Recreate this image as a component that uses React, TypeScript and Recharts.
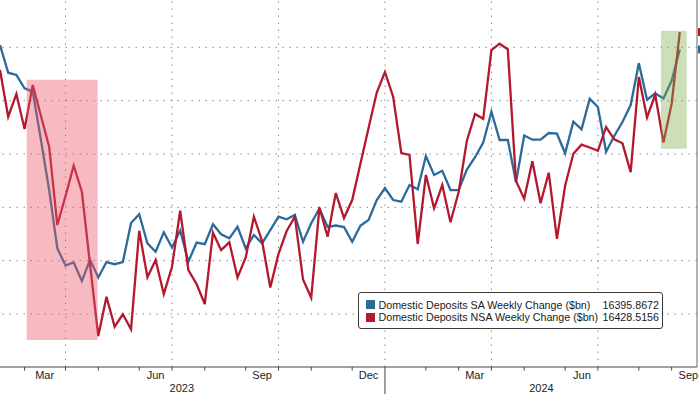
import { LineChart, Line, XAxis, YAxis, ReferenceLine, ReferenceArea, ReferenceDot } from 'recharts';

// Weekly H.8 readings ($bn), Wed 8 Feb 2023 .. Wed 11 Sep 2024, one point per week
const saWeekly = [
  16404.3, 16352.4, 16348.1, 16323.1, 16316.8, 16226.2, 16132.4, 16023.1, 15990.9, 15996.5,
  15961.8, 16001.8, 15968.4, 15997.4, 15993.3, 15997.4, 16070.6, 16087.1, 16032.5, 16016.8,
  16053.1, 16024.6, 16056.5, 15998.0, 16034.0, 16030.8, 16068.3, 16049.4, 16041.9, 16063.6,
  16023.1, 16048.1, 16032.5, 16057.4, 16082.4, 16077.5, 16085.6, 16035.5, 16070.0, 16097.8,
  16063.1, 16065.9, 16063.1, 16035.5, 16065.5, 16076.2, 16113.7, 16136.2, 16113.7, 16110.5,
  16141.8, 16133.9, 16196.2, 16160.6, 16168.6, 16132.4, 16132.4, 16170.9, 16193.9, 16221.5,
  16279.3, 16226.2, 16226.2, 16147.1, 16234.6, 16226.8, 16226.8, 16239.3, 16238.0, 16201.3,
  16260.5, 16246.3, 16303.4, 16288.1, 16204.3, 16233.7, 16259.9, 16291.8, 16370.0, 16301.8,
  16313.8, 16304.0, 16337.2, 16395.8672,
];

const nsaWeekly = [
  16357.4, 16269.9, 16312.4, 16246.8, 16329.3, 16271.2, 16213.6, 16066.8, 16121.2, 16178.0,
  16128.7, 15991.8, 15858.7, 15932.4, 15876.1, 15899.4, 15871.3, 16056.1, 15968.8, 16001.2,
  15937.4, 15988.6, 16093.6, 15982.4, 15956.2, 15918.7, 16052.4, 16019.9, 16034.4, 15968.4,
  16005.9, 16082.4, 16036.8, 15949.6, 16012.4, 16055.6, 16082.4, 15964.6, 15930.5, 16099.6,
  16044.9, 16126.8, 16079.9, 16113.7, 16181.2, 16248.7, 16315.3, 16353.7, 16307.4, 16201.8,
  16198.1, 16031.2, 16160.6, 16098.1, 16141.8, 16071.9, 16128.7, 16224.3, 16274.9, 16265.9,
  16394.9, 16406.8, 16396.3, 16149.3, 16116.1, 16186.3, 16107.5, 16164.9, 16040.9, 16140.3,
  16200.5, 16217.4, 16212.1, 16205.9, 16250.6, 16227.5, 16220.0, 16165.8, 16344.3, 16268.4,
  16311.5, 16221.5, 16293.7, 16428.5156,
];

const seriesNames = [
  'Domestic Deposits SA Weekly Change ($bn)',
  'Domestic Deposits NSA Weekly Change ($bn)',
];

// week index of the first reading in each month / quarter
const monthStarts = [3, 8, 12, 17, 21, 25, 30, 34, 38, 43, 47, 52, 56, 60, 64, 69, 73, 78, 82];
const quarterStarts = [8, 21, 34, 47, 60, 73];
const yearBreak = 47;

const monthLabels = [
  { at: 5.45, text: 'Mar' },
  { at: 19, text: 'Jun' },
  { at: 32, text: 'Sep' },
  { at: 45, text: 'Dec' },
  { at: 57.95, text: 'Mar' },
  { at: 71.05, text: 'Jun' },
  { at: 84.05, text: 'Sep' },
];
const yearLabels = [
  { at: 22.2, text: '2023' },
  { at: 66.1, text: '2024' },
];

const gridValues = [15900, 16000, 16100, 16200, 16300, 16400];
const yTicks = [15850, 15900, 15950, 16000, 16050, 16100, 16150, 16200, 16250, 16300, 16350, 16400, 16450];

// shaded periods
const stressWeeks = [3.26, 11.93];
const stressRange = [15851, 16339];
const recentWeeks = [80.7, 83.85];
const recentRange = [16210, 16431];

const BLUE = '#2c6a9c';
const RED = '#b3182f';
const FONT = '"Liberation Sans", Arial, sans-serif';

const data = saWeekly.map((sa, i) => ({ i, sa, nsa: nsaWeekly[i] }));
const xTicks = [...monthStarts, ...monthLabels.map((m) => m.at), ...yearLabels.map((y) => y.at)];

function DateTick(props: any) {
  const { x, y, payload } = props;
  const v = payload.value;
  const month = monthLabels.find((m) => m.at === v);
  if (month) {
    return (
      <text x={x} y={y + 12.3} textAnchor="middle" fontSize={11} fontFamily={FONT} fill="#222">
        {month.text}
      </text>
    );
  }
  const year = yearLabels.find((m) => m.at === v);
  if (year) {
    return (
      <text x={x} y={y + 25.3} textAnchor="middle" fontSize={11} fontFamily={FONT} fill="#222">
        {year.text}
      </text>
    );
  }
  return <line x1={x} x2={x} y1={y} y2={y + (v === yearBreak ? 27 : 3.5)} stroke="#444" strokeWidth={1} />;
}

function LastTag(props: any) {
  const { cx, cy, fill } = props;
  return <rect x={cx + 1} y={cy - 4} width={10} height={8} fill={fill} />;
}

export default function App() {
  const last = data[data.length - 1];
  return (
    <div style={{ position: 'absolute', left: 0, top: 0, width: 700, height: 394, background: '#fff', overflow: 'hidden' }}>
      <LineChart width={700} height={394} data={data} margin={{ top: 0, right: 0, bottom: 0, left: 0 }}>
        <XAxis
          type="number"
          dataKey="i"
          domain={[0, 85.1]}
          allowDataOverflow
          ticks={xTicks}
          interval={0}
          tickLine={false}
          tickSize={0}
          tickMargin={0}
          height={27}
          axisLine={{ stroke: '#444' }}
          tick={<DateTick />}
        />
        <YAxis
          orientation="right"
          width={3}
          domain={[15800.6, 16488.7]}
          allowDataOverflow
          ticks={yTicks}
          interval={0}
          tick={false}
          tickSize={4}
          tickLine={{ stroke: '#555' }}
          axisLine={{ stroke: '#666' }}
        />
        {gridValues.map((v) => (
          <ReferenceLine key={'h' + v} y={v} stroke="#8c8c8c" strokeDasharray="1.5 5.5" />
        ))}
        {quarterStarts.map((q) => (
          <ReferenceLine key={'v' + q} x={q} stroke="#8c8c8c" strokeDasharray="1.5 5.5" />
        ))}
        <Line
          type="linear"
          dataKey="sa"
          stroke={BLUE}
          strokeWidth={2.3}
          dot={false}
          activeDot={false}
          isAnimationActive={false}
        />
        <Line
          type="linear"
          dataKey="nsa"
          stroke={RED}
          strokeWidth={2.3}
          dot={false}
          activeDot={false}
          isAnimationActive={false}
        />
        <ReferenceArea
          x1={stressWeeks[0]}
          x2={stressWeeks[1]}
          y1={stressRange[0]}
          y2={stressRange[1]}
          fill="#ea5a68"
          fillOpacity={0.42}
          stroke="none"
          zIndex={450}
        />
        <ReferenceArea
          x1={recentWeeks[0]}
          x2={recentWeeks[1]}
          y1={recentRange[0]}
          y2={recentRange[1]}
          fill="#7fae4f"
          fillOpacity={0.4}
          stroke="none"
          zIndex={450}
        />
        <ReferenceDot x={85.1} y={last.nsa} fill={RED} shape={<LastTag />} ifOverflow="visible" />
        <ReferenceDot x={85.1} y={last.sa} fill={BLUE} shape={<LastTag />} ifOverflow="visible" />
      </LineChart>
      <div
        style={{
          position: 'absolute',
          left: 358,
          top: 292,
          width: 305,
          height: 37,
          boxSizing: 'border-box',
          border: '1px solid #3a3a3a',
          borderRadius: 3,
          background: '#fff',
          fontFamily: FONT,
          fontSize: 10.7,
          color: '#1a1a1a',
          paddingTop: 5.5,
          paddingLeft: 7,
          paddingRight: 3,
        }}
      >
        {seriesNames.map((name, k) => (
          <div key={name} style={{ display: 'flex', alignItems: 'center', height: 12.7, lineHeight: '12.7px', whiteSpace: 'nowrap' }}>
            <span style={{ width: 9, height: 9, background: k === 0 ? BLUE : RED, marginRight: 3.5, flex: 'none' }} />
            <span style={{ flex: 1 }}>{name}</span>
            <span style={{ marginLeft: 4 }}>{(k === 0 ? last.sa : last.nsa).toFixed(4)}</span>
          </div>
        ))}
      </div>
    </div>
  );
}
